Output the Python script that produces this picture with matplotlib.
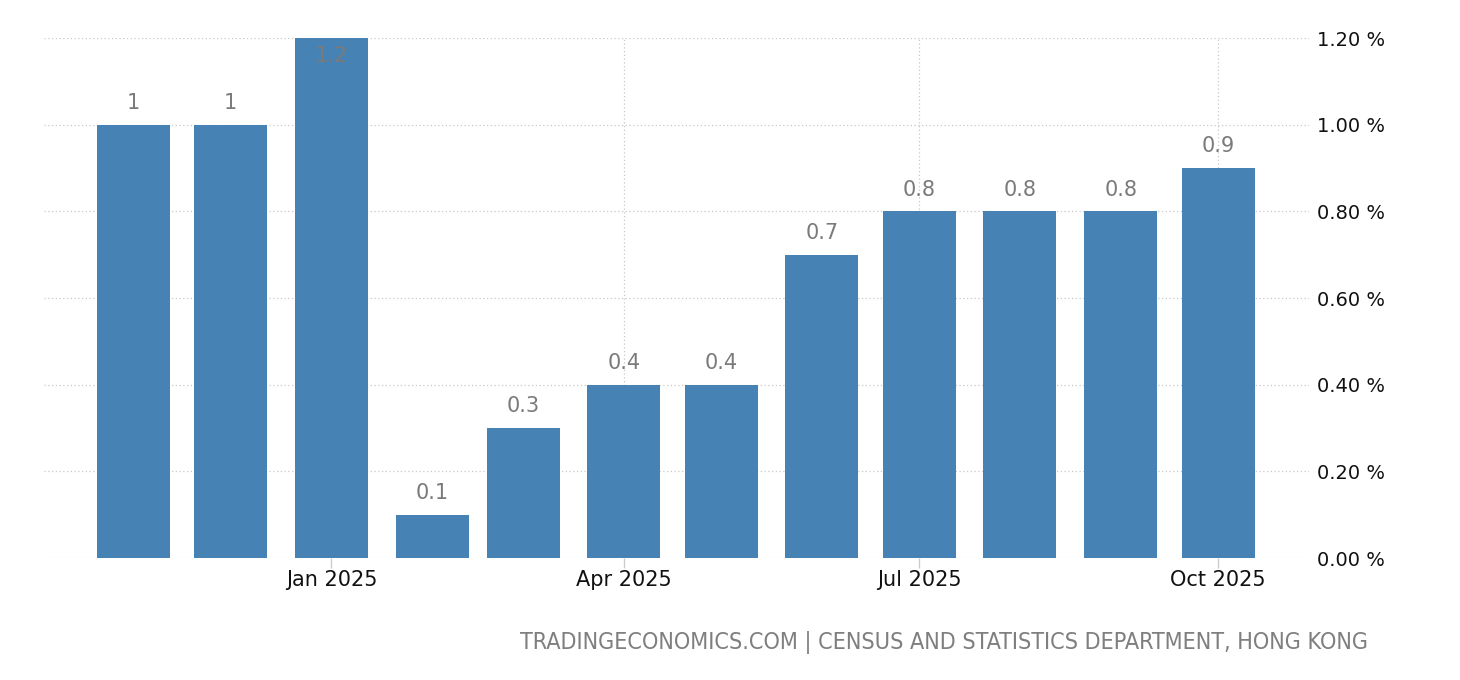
import matplotlib
matplotlib.use("Agg")
import matplotlib.pyplot as plt
import matplotlib.dates as mdates
import numpy as np
import datetime as dt

months = ["2024-11", "2024-12", "2025-01", "2025-02", "2025-03", "2025-04",
          "2025-05", "2025-06", "2025-07", "2025-08", "2025-09", "2025-10"]
values = [1.0, 1.0, 1.2, 0.1, 0.3, 0.4, 0.4, 0.7, 0.8, 0.8, 0.8, 0.9]
labels = ["1", "1", "1.2", "0.1", "0.3", "0.4", "0.4", "0.7", "0.8", "0.8", "0.8", "0.9"]
tick_dates = ["2025-01", "2025-04", "2025-07", "2025-10"]
tick_labels = ["Jan 2025", "Apr 2025", "Jul 2025", "Oct 2025"]
yticks = [0, 0.2, 0.4, 0.6, 0.8, 1.0, 1.2]
ytick_labels = ["0.00 %", "0.20 %", "0.40 %", "0.60 %", "0.80 %", "1.00 %", "1.20 %"]
footer = "TRADINGECONOMICS.COM | CENSUS AND STATISTICS DEPARTMENT, HONG KONG"

def to_date(s):
    y, m = s.split("-")
    return dt.datetime(int(y), int(m), 1)

xd = mdates.date2num([to_date(m) for m in months])
td = mdates.date2num([to_date(m) for m in tick_dates])

plt.rcParams['font.family'] = ['DejaVu Sans']
fig = plt.figure(figsize=(14.6, 6.8), dpi=100)
ax = fig.add_axes([44/1460, 122/680, (1309-44)/1460, 520/680])

bar_color = "#4682b4"
ax.bar(xd, values, width=22.5, color=bar_color, zorder=2)

ax.set_ylim(0, 1.2)
ax.set_xlim(mdates.date2num(dt.datetime(2024, 10, 4, 12)), mdates.date2num(dt.datetime(2025, 10, 29)))

ax.set_yticks(yticks)
ax.set_yticklabels(ytick_labels)
ax.yaxis.tick_right()
ax.tick_params(axis='y', length=0, pad=6, labelsize=14, labelcolor="#111111")
ax.set_xticks(td)
ax.set_xticklabels(tick_labels)
ax.tick_params(axis='x', length=7, width=1, color="#cccccc", pad=2, labelsize=15, labelcolor="#111111")

ax.grid(True, axis='both', linestyle=(0, (1, 2)), color="#c8c8c8", linewidth=0.9, zorder=0)
ax.set_axisbelow(True)
for s in ax.spines.values():
    s.set_visible(False)

for x, v, lab in zip(xd, values, labels):
    if v >= 1.15:
        ax.annotate(lab, (x, 1.2), xytext=(0, -17.6), textcoords='offset points',
                    ha='center', va='baseline', fontsize=15, color="#7a7a7a", zorder=3)
    else:
        ax.annotate(lab, (x, v), xytext=(0, 11.2), textcoords='offset points',
                    ha='center', va='baseline', fontsize=15, color="#7a7a7a", zorder=3)

fig.text(1368/1460, 1 - 642/680, footer, ha='right', va='center', fontsize=16.75,
         color="#7f7f7f", fontstretch='condensed')

fig.savefig("out.png", dpi=100)
